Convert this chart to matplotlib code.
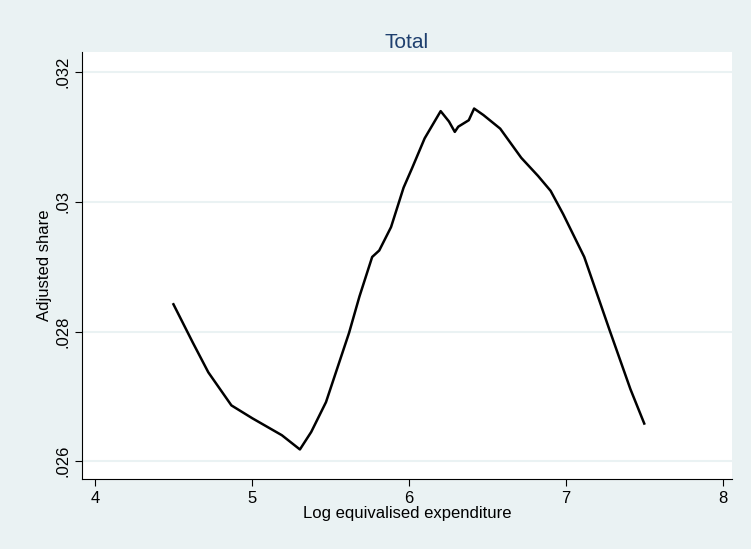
import matplotlib
matplotlib.use("Agg")
import matplotlib.pyplot as plt

plt.rcParams['font.family'] = ['Liberation Sans', 'DejaVu Sans']

x_data = [4.50, 4.623, 4.722, 4.869, 5.003, 5.190, 5.305, 5.377, 5.471, 5.618, 5.684, 5.765,
          5.810, 5.885, 5.965, 6.019, 6.099, 6.201, 6.254, 6.291, 6.313, 6.380, 6.414, 6.473,
          6.580, 6.714, 6.821, 6.901, 6.981, 7.115, 7.275, 7.409, 7.497]
y_data = [.02842, .02783, .02737, .02686, .02666, .02640, .02618, .02645, .02691, .02798, .02854, .02915,
          .02925, .02961, .03022, .03052, .03098, .03140, .03124, .03108, .03116, .03126, .03144, .03134,
          .03113, .03068, .03040, .03017, .02981, .02915, .02803, .02711, .02658]
x_ticks = [4, 5, 6, 7, 8]
y_ticks = [.026, .028, .030, .032]
y_labels = ['.026', '.028', '.03', '.032']

fig = plt.figure(figsize=(7.51, 5.49), dpi=100, facecolor='#eaf2f3')
ax = fig.add_axes([0.109, 0.127, 0.866, 0.778])
ax.set_facecolor('white')
ax.plot(x_data, y_data, color='black', linewidth=1.8)
ax.set_xlim(3.917, 8.057)
ax.set_ylim(.02572, .03231)
ax.set_xticks(x_ticks)
ax.set_yticks(y_ticks)
ax.set_yticklabels(y_labels, rotation=90, va='center')
ax.yaxis.grid(True, color='#eaf2f3', linewidth=1.5)
ax.set_axisbelow(True)
for s in ['top', 'right']:
    ax.spines[s].set_visible(False)
ax.tick_params(labelsize=12, length=5)
ax.set_xlabel('Log equivalised expenditure', fontsize=12, labelpad=0)
ax.set_ylabel('Adjusted share', fontsize=12, labelpad=2)
ax.set_title('Total', fontsize=15, color='#1e3f6e', pad=2)
fig.savefig('out.png', dpi=100, facecolor=fig.get_facecolor())
